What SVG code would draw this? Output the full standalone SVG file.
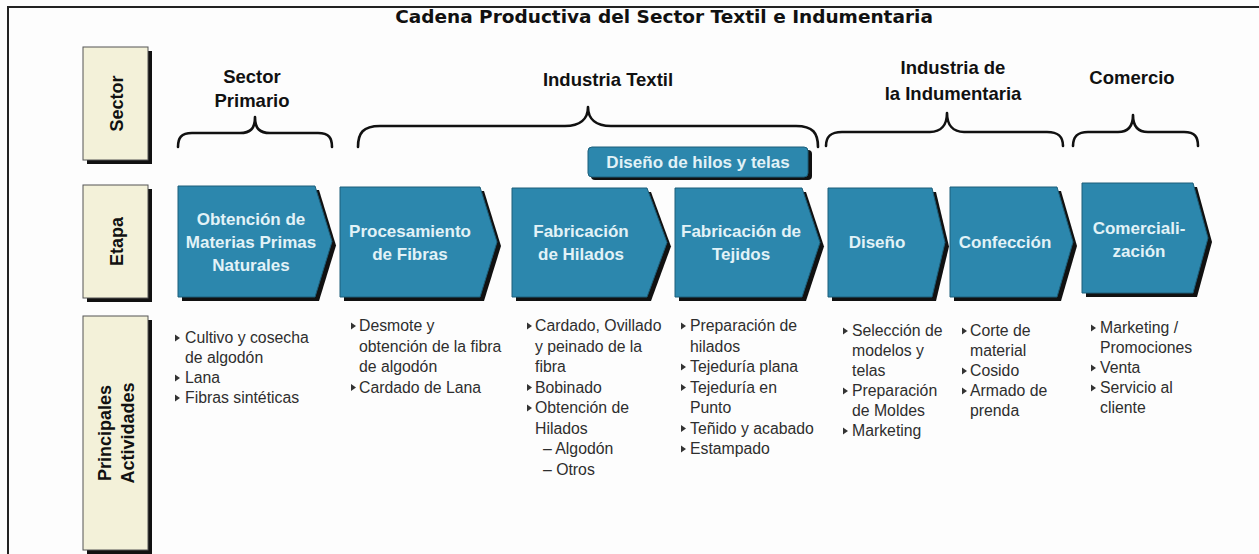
<svg xmlns="http://www.w3.org/2000/svg" xmlns:xlink="http://www.w3.org/1999/xlink" width="1259" height="554" viewBox="0 0 1259 554">
<style>
.title{font-family:"DejaVu Sans",sans-serif;font-weight:bold;font-size:18.5px;fill:#111;text-anchor:middle}
.hdr{font-family:"Liberation Sans",Arial,sans-serif;font-weight:bold;font-size:18.5px;fill:#111;text-anchor:middle}
.lbl{font-family:"Liberation Sans",Arial,sans-serif;font-weight:bold;font-size:18px;fill:#111;text-anchor:middle}
.lblbox{fill:#f3f1d9;stroke:#555;stroke-width:1}
.shadow{fill:#111}
.chev{fill:#2c87ad;stroke:#1d5f7a;stroke-width:1}
.ct{font-family:"Liberation Sans",Arial,sans-serif;font-weight:bold;font-size:17px;fill:#e2f2f7;text-anchor:middle}
.act{font-family:"Liberation Sans",Arial,sans-serif;font-size:15.8px;fill:#2e2e2e}
.brace{fill:none;stroke:#111;stroke-width:2.6;stroke-linejoin:round;stroke-linecap:round}
</style>
<defs>
<polygon id="b" points="0,-8.5 5,-5 0,-1.5" fill="#333"/>
</defs>
<rect x="0" y="0" width="1259" height="554" fill="#fdfdfd"/>
<rect x="8" y="7" width="1300" height="600" fill="none" stroke="#222" stroke-width="2"/>
<text class="title" x="664" y="23">Cadena Productiva del Sector Textil e Indumentaria</text>

<g id="label-sector">
<rect class="shadow" x="87" y="51" width="65" height="113"/>
<rect class="lblbox" x="83" y="47" width="65" height="113"/>
<text class="lbl" transform="translate(123,103.5) rotate(-90)">Sector</text>
</g>
<g id="label-etapa">
<rect class="shadow" x="87" y="189" width="65" height="113"/>
<rect class="lblbox" x="83" y="185" width="65" height="113"/>
<text class="lbl" transform="translate(123,241.5) rotate(-90)">Etapa</text>
</g>
<g id="label-actividades">
<rect class="shadow" x="87" y="320" width="65" height="234"/>
<rect class="lblbox" x="83" y="316" width="65" height="234"/>
<text class="lbl" transform="translate(111,433) rotate(-90)">Principales</text>
<text class="lbl" transform="translate(134,433) rotate(-90)">Actividades</text>
</g>

<g id="sector-primario">
<text class="hdr" x="252" y="83">Sector</text>
<text class="hdr" x="252" y="107">Primario</text>
</g>
<g id="industria-textil">
<text class="hdr" x="608" y="86">Industria Textil</text>
</g>
<g id="industria-indumentaria">
<text class="hdr" x="953" y="74">Industria de</text>
<text class="hdr" x="953" y="100">la Indumentaria</text>
</g>
<g id="comercio">
<text class="hdr" x="1132" y="84">Comercio</text>
</g>

<g id="connectors">
<path class="brace" d="M178,147 C178,138 181,133 192,133 L240,133 C250,133 255,129 255,117 C255,129 260,133 270,133 L318,133 C329,133 332,138 332,147"/>
<path class="brace" d="M358,147 C358,133 363,126 380,126 L565,126 C580,126 588,119 588,107 C588,119 596,126 611,126 L796,126 C813,126 818,133 818,147"/>
<path class="brace" d="M826,146 C826,137 830,132 842,132 L930,132 C941,132 947,125 947,113 C947,125 953,132 964,132 L1047,132 C1059,132 1063,137 1063,146"/>
<path class="brace" d="M1073,146 C1073,137 1077,132 1088,132 L1118,132 C1128,132 1133,126 1133,115 C1133,126 1138,132 1148,132 L1184,132 C1195,132 1198,137 1198,146"/>
</g>

<g id="diseno-hilos-telas">
<rect class="shadow" x="591" y="150" width="221" height="30" rx="4"/>
<rect class="chev" x="588" y="147" width="220" height="30" rx="4"/>
<text class="ct" x="698" y="168">Diseño de hilos y telas</text>
</g>

<g id="etapa-obtencion">
<polygon class="shadow" points="182,190 319,190 336,245.5 319,301 182,301"/>
<polygon class="chev" points="178,186 315,186 332,241.5 315,297 178,297"/>
<text class="ct" x="251" y="225">Obtención de</text>
<text class="ct" x="251" y="248">Materias Primas</text>
<text class="ct" x="251" y="271">Naturales</text>
</g>
<g id="etapa-procesamiento">
<polygon class="shadow" points="344,191 484,191 501,246 484,301 344,301"/>
<polygon class="chev" points="340,187 480,187 497,242 480,297 340,297"/>
<text class="ct" x="410" y="237">Procesamiento</text>
<text class="ct" x="410" y="260">de Fibras</text>
</g>
<g id="etapa-hilados">
<polygon class="shadow" points="516,192 651,192 671,246.5 651,301 516,301"/>
<polygon class="chev" points="512,188 647,188 667,242.5 647,297 512,297"/>
<text class="ct" x="581" y="237">Fabricación</text>
<text class="ct" x="581" y="260">de Hilados</text>
</g>
<g id="etapa-tejidos">
<polygon class="shadow" points="679,192 806,192 824,246.5 806,301 679,301"/>
<polygon class="chev" points="675,188 802,188 820,242.5 802,297 675,297"/>
<text class="ct" x="741" y="237">Fabricación de</text>
<text class="ct" x="741" y="260">Tejidos</text>
</g>
<g id="etapa-diseno">
<polygon class="shadow" points="832,192 936,192 949,246.5 936,301 832,301"/>
<polygon class="chev" points="828,188 932,188 945,242.5 932,297 828,297"/>
<text class="ct" x="877" y="248">Diseño</text>
</g>
<g id="etapa-confeccion">
<polygon class="shadow" points="954,191 1061,191 1077,246 1061,301 954,301"/>
<polygon class="chev" points="950,187 1057,187 1073,242 1057,297 950,297"/>
<text class="ct" x="1005" y="248">Confección</text>
</g>
<g id="etapa-comercializacion">
<polygon class="shadow" points="1086,187 1197,187 1212,242 1197,297 1086,297"/>
<polygon class="chev" points="1082,183 1193,183 1208,238 1193,293 1082,293"/>
<text class="ct" x="1139" y="234">Comerciali-</text>
<text class="ct" x="1139" y="257">zación</text>
</g>

<g id="act-primario">
<use xlink:href="#b" x="175" y="343"/>
<text class="act" x="185" y="343">Cultivo y cosecha</text>
<text class="act" x="185" y="363">de algodón</text>
<use xlink:href="#b" x="175" y="383"/>
<text class="act" x="185" y="383">Lana</text>
<use xlink:href="#b" x="175" y="403"/>
<text class="act" x="185" y="403">Fibras sintéticas</text>
</g>
<g id="act-procesamiento">
<use xlink:href="#b" x="351" y="331"/>
<text class="act" x="359" y="331">Desmote y</text>
<text class="act" x="359" y="351.5">obtención de la fibra</text>
<text class="act" x="359" y="372">de algodón</text>
<use xlink:href="#b" x="351" y="392.5"/>
<text class="act" x="359" y="392.5">Cardado de Lana</text>
</g>
<g id="act-hilados">
<use xlink:href="#b" x="527" y="331"/>
<text class="act" x="535" y="331">Cardado, Ovillado</text>
<text class="act" x="535" y="351.5">y peinado de la</text>
<text class="act" x="535" y="372">fibra</text>
<use xlink:href="#b" x="527" y="392.5"/>
<text class="act" x="535" y="392.5">Bobinado</text>
<use xlink:href="#b" x="527" y="413"/>
<text class="act" x="535" y="413">Obtención de</text>
<text class="act" x="535" y="433.5">Hilados</text>
<text class="act" x="543" y="454">– Algodón</text>
<text class="act" x="543" y="474.5">– Otros</text>
</g>
<g id="act-tejidos">
<use xlink:href="#b" x="681" y="331"/>
<text class="act" x="690" y="331">Preparación de</text>
<text class="act" x="690" y="351.5">hilados</text>
<use xlink:href="#b" x="681" y="372"/>
<text class="act" x="690" y="372">Tejeduría plana</text>
<use xlink:href="#b" x="681" y="392.5"/>
<text class="act" x="690" y="392.5">Tejeduría en</text>
<text class="act" x="690" y="413">Punto</text>
<use xlink:href="#b" x="681" y="433.5"/>
<text class="act" x="690" y="433.5">Teñido y acabado</text>
<use xlink:href="#b" x="681" y="454"/>
<text class="act" x="690" y="454">Estampado</text>
</g>
<g id="act-diseno">
<use xlink:href="#b" x="843" y="336"/>
<text class="act" x="852" y="336">Selección de</text>
<text class="act" x="852" y="356">modelos y</text>
<text class="act" x="852" y="376">telas</text>
<use xlink:href="#b" x="843" y="396"/>
<text class="act" x="852" y="396">Preparación</text>
<text class="act" x="852" y="416">de Moldes</text>
<use xlink:href="#b" x="843" y="436"/>
<text class="act" x="852" y="436">Marketing</text>
</g>
<g id="act-confeccion">
<use xlink:href="#b" x="962" y="336"/>
<text class="act" x="970" y="336">Corte de</text>
<text class="act" x="970" y="356">material</text>
<use xlink:href="#b" x="962" y="376"/>
<text class="act" x="970" y="376">Cosido</text>
<use xlink:href="#b" x="962" y="396"/>
<text class="act" x="970" y="396">Armado de</text>
<text class="act" x="970" y="416">prenda</text>
</g>
<g id="act-comercializacion">
<use xlink:href="#b" x="1091" y="333"/>
<text class="act" x="1100" y="333">Marketing /</text>
<text class="act" x="1100" y="353">Promociones</text>
<use xlink:href="#b" x="1091" y="373"/>
<text class="act" x="1100" y="373">Venta</text>
<use xlink:href="#b" x="1091" y="393"/>
<text class="act" x="1100" y="393">Servicio al</text>
<text class="act" x="1100" y="413">cliente</text>
</g>
</svg>
